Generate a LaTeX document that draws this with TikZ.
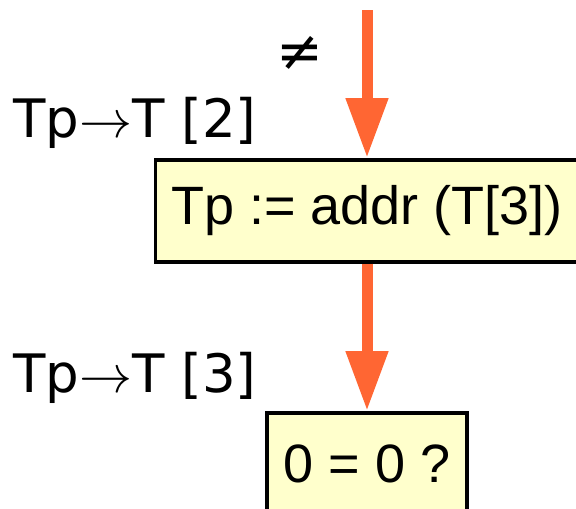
\documentclass[tikz,border=0pt]{standalone}
\usepackage{fix-cm}
\usepackage{fontspec}
\setmainfont{Liberation Sans}
\newfontfamily\labelfont{DejaVu Sans}
\usepackage{xcolor}
\usetikzlibrary{arrows.meta,positioning}
\definecolor{flowcol}{HTML}{FF6633}
\definecolor{stmtfill}{HTML}{FFFFCC}

\begin{document}
\begin{tikzpicture}[x=1pt,y=1pt,
  stmt/.style={draw=black,line width=3.5pt,fill=stmtfill,anchor=north,
    minimum height=102pt,inner sep=0pt,font=\fontsize{54}{60}\selectfont},
  flow/.style={draw=flowcol,line width=11pt,-{Triangle[width=40pt,length=60pt]}},
  lbl/.style={anchor=base west,inner sep=0pt,font=\labelfont\fontsize{53}{60}\selectfont},
]
  \useasboundingbox (0,0) rectangle (576,-509);
  \clip (0,0) rectangle (576,-509);

  \node[stmt,minimum width=423pt] (assign) at (367,-158) {Tp := addr (T[3])};
  \node[stmt,minimum width=200pt] (test) at (367,-411) {0 = 0 ?};
  \coordinate (entry) at (367,-10);

  \draw[flow] (entry) -- (assign.north);
  \draw[flow] (assign.south) -- (test.north);

  \node[lbl] (lbl2) at (13,-137) {Tp$\rightarrow$T [2]};
  \node[lbl] (lbl3) at (13,-392) {Tp$\rightarrow$T [3]};
  \node[inner sep=0pt,font=\labelfont\fontsize{56}{60}\selectfont] (ne) at (300,-53) {≠};
\end{tikzpicture}
\end{document}
